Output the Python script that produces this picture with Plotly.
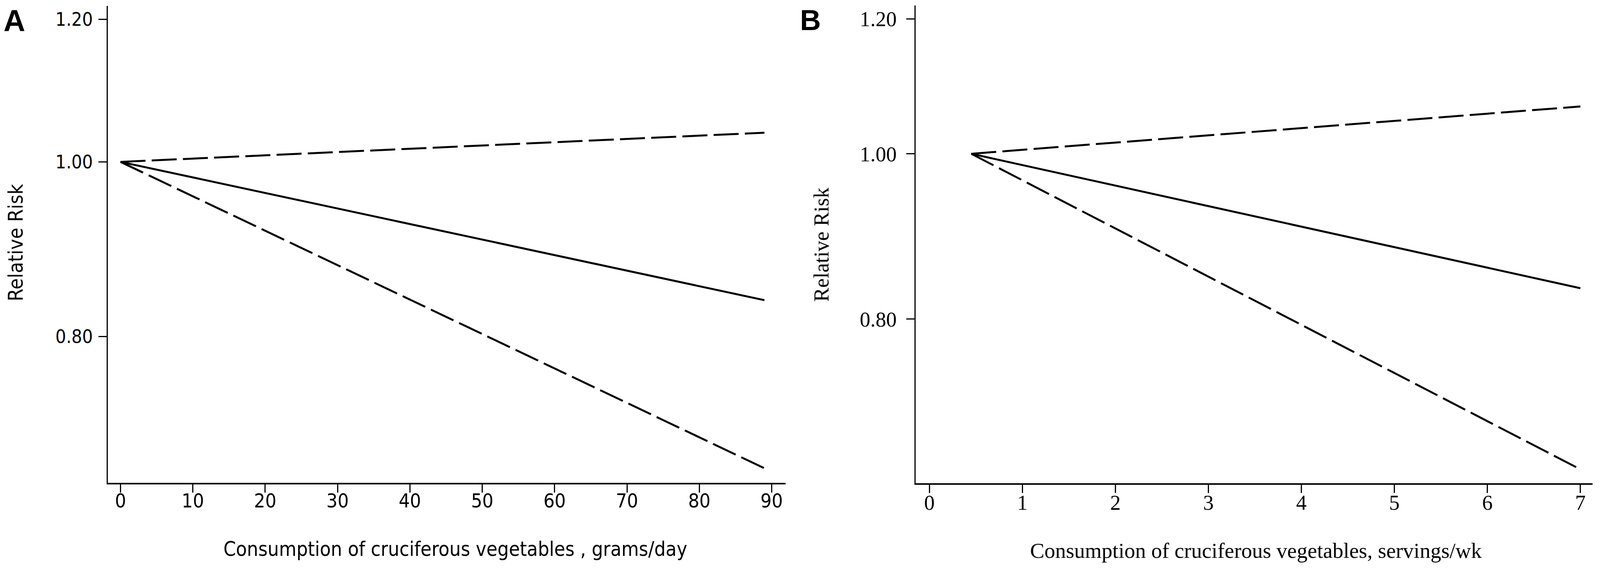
import plotly.graph_objects as go

W = 4317
H = 1454

# Panel A: grams/day
grams = [0, 89]
rr_grams = [1.0, 0.838]
lo_grams = [1.0, 0.676]
hi_grams = [1.0, 1.038]

# Panel B: servings/wk
servings = [0.45, 7]
rr_serv = [1.0, 0.834]
lo_serv = [1.0, 0.653]
hi_serv = [1.0, 1.066]

y_ticks = [0.8, 1.0, 1.2]
y_tick_text = ["0.80", "1.00", "1.20"]
x_ticks_a = [0, 10, 20, 30, 40, 50, 60, 70, 80, 90]
x_ticks_b = [0, 1, 2, 3, 4, 5, 6, 7]

sans = "Liberation Sans Narrow, DejaVu Sans Condensed, Arial Narrow, sans-serif"
serif = "Liberation Serif, Times New Roman, serif"
bold = "Liberation Sans, Arial, sans-serif"

def px(x):
    return x / W

def py(y):
    return 1 - y / H

fig = go.Figure()

solid = dict(color="black", width=5)
dashed = dict(color="black", width=5, dash="64px,16px")

fig.add_trace(go.Scatter(x=grams, y=hi_grams, mode="lines", line=dashed, xaxis="x", yaxis="y"))
fig.add_trace(go.Scatter(x=grams, y=rr_grams, mode="lines", line=solid, xaxis="x", yaxis="y"))
fig.add_trace(go.Scatter(x=grams, y=lo_grams, mode="lines", line=dashed, xaxis="x", yaxis="y"))

fig.add_trace(go.Scatter(x=servings, y=hi_serv, mode="lines", line=dashed, xaxis="x2", yaxis="y2"))
fig.add_trace(go.Scatter(x=servings, y=rr_serv, mode="lines", line=solid, xaxis="x2", yaxis="y2"))
fig.add_trace(go.Scatter(x=servings, y=lo_serv, mode="lines", line=dashed, xaxis="x2", yaxis="y2"))

axis_common = dict(showgrid=False, zeroline=False, showline=True, linecolor="black",
                   linewidth=3, ticks="outside", ticklen=21, tickwidth=3, tickcolor="black")

fig.update_layout(
    autosize=True,
    margin=dict(l=0, r=0, t=0, b=0),
    paper_bgcolor="white", plot_bgcolor="white",
    showlegend=False,
    xaxis=dict(axis_common, domain=[px(284), px(2119)], range=[-1.73, 91.9],
               tickvals=x_ticks_a, anchor="y", ticklabelstandoff=-22, linewidth=4,
               tickfont=dict(family=sans, size=50, color="black")),
    yaxis=dict(axis_common, domain=[py(1242), py(7)], type="log", range=[-0.1782, 0.0866],
               tickvals=y_ticks, ticktext=y_tick_text, anchor="x", ticklabelstandoff=5,
               tickfont=dict(family=sans, size=48, color="black")),
    xaxis2=dict(axis_common, domain=[px(2472), px(4305)], range=[-0.147, 7.13],
                tickvals=x_ticks_b, anchor="y2", ticklabelstandoff=-22, linewidth=4,
                tickfont=dict(family=serif, size=54, color="black")),
    yaxis2=dict(axis_common, domain=[py(1243), py(6)], type="log", range=[-0.1933, 0.0870],
                tickvals=y_ticks, ticktext=y_tick_text, anchor="x2", ticklabelstandoff=14,
                tickfont=dict(family=serif, size=54, color="black")),
)

# axis titles and panel letters
ann = [
    dict(x=px(1225), y=py(1413), text="Consumption of cruciferous vegetables , grams/day",
         xanchor="center", yanchor="middle", font=dict(family=sans, size=51, color="black")),
    dict(x=px(3394), y=py(1417), text="Consumption of cruciferous vegetables, servings/wk",
         xanchor="center", yanchor="middle", font=dict(family=serif, size=55, color="black")),
    dict(x=0, y=py(620), text="Relative Risk", textangle=-90,
         xanchor="left", yanchor="middle", font=dict(family=sans, size=52, color="black")),
    dict(x=px(2217), y=py(625), text="Relative Risk", textangle=-90,
         xanchor="center", yanchor="middle", font=dict(family=serif, size=54, color="black")),
    dict(x=px(31), y=1, text="<b>A</b>", xanchor="center", yanchor="top",
         font=dict(family=bold, size=77, color="black")),
    dict(x=px(2187), y=1, text="<b>B</b>", xanchor="center", yanchor="top",
         font=dict(family=bold, size=74, color="black")),
]
for a in ann:
    fig.add_annotation(xref="paper", yref="paper", showarrow=False, **a)

# fill the browser window (body keeps its 8px margin)
fig.write_html("out.html", default_width="calc(100vw - 16px)",
               default_height="calc(100vh - 16px)", config={"responsive": True})
